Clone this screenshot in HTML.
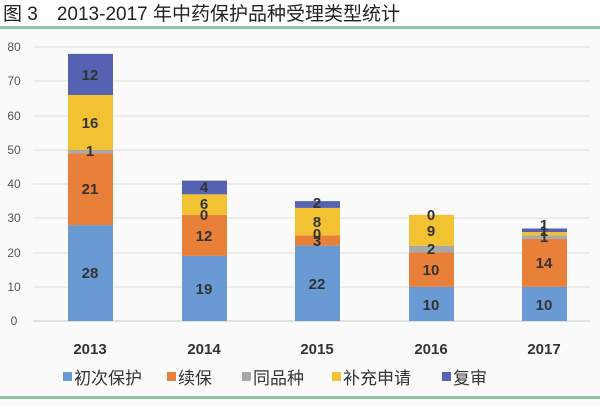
<!DOCTYPE html>
<html><head><meta charset="utf-8"><style>
body{margin:0;width:600px;height:405px;background:#fff;overflow:hidden;font-family:"Liberation Sans","Noto Sans CJK SC",sans-serif}
</style></head><body>
<svg width="600" height="405" xmlns="http://www.w3.org/2000/svg" font-family="Liberation Sans, Noto Sans CJK SC, sans-serif">
<rect width="600" height="405" fill="#fbfbfb"/>
<rect width="600" height="27" fill="#fff"/>
<text x="3" y="20" font-size="19" fill="#222">图 3　2013-2017 年中药保护品种受理类型统计</text>
<rect x="0" y="26" width="600" height="3" fill="#8cc9a2"/>
<rect x="0" y="396" width="600" height="3" fill="#8cc9a2"/>
<g stroke="#dcdcdc" stroke-width="1">
<line x1="33" x2="590" y1="47" y2="47"/><line x1="33" x2="590" y1="81" y2="81"/>
<line x1="33" x2="590" y1="116" y2="116"/><line x1="33" x2="590" y1="150" y2="150"/>
<line x1="33" x2="590" y1="184" y2="184"/><line x1="33" x2="590" y1="218" y2="218"/>
<line x1="33" x2="590" y1="253" y2="253"/><line x1="33" x2="590" y1="287" y2="287"/>
<line x1="33" x2="590" y1="321" y2="321" stroke="#c8c8c8"/>
</g>
<g font-size="12" fill="#555" text-anchor="middle">
<text x="14" y="51">80</text><text x="14" y="85">70</text><text x="14" y="120">60</text>
<text x="14" y="154">50</text><text x="14" y="188">40</text><text x="14" y="222">30</text>
<text x="14" y="257">20</text><text x="14" y="291">10</text><text x="14" y="325">0</text>
</g>
<!-- scale 3.425 px/unit, base 321 -->
<g>
<!-- 2013 -->
<rect x="68" y="225.1" width="45" height="95.9" fill="#6a9ad3"/>
<rect x="68" y="153.2" width="45" height="71.9" fill="#e8803a"/>
<rect x="68" y="149.8" width="45" height="3.4" fill="#a8a8a8"/>
<rect x="68" y="95" width="45" height="54.8" fill="#f3c233"/>
<rect x="68" y="53.9" width="45" height="41.1" fill="#5562b2"/>
<!-- 2014 -->
<rect x="182" y="255.9" width="45" height="65.1" fill="#6a9ad3"/>
<rect x="182" y="214.8" width="45" height="41.1" fill="#e8803a"/>
<rect x="182" y="194.3" width="45" height="20.5" fill="#f3c233"/>
<rect x="182" y="180.6" width="45" height="13.7" fill="#5562b2"/>
<!-- 2015 -->
<rect x="295" y="245.6" width="45" height="75.4" fill="#6a9ad3"/>
<rect x="295" y="235.3" width="45" height="10.3" fill="#e8803a"/>
<rect x="295" y="207.9" width="45" height="27.4" fill="#f3c233"/>
<rect x="295" y="201.1" width="45" height="6.8" fill="#5562b2"/>
<!-- 2016 -->
<rect x="409" y="286.8" width="45" height="34.2" fill="#6a9ad3"/>
<rect x="409" y="252.5" width="45" height="34.3" fill="#e8803a"/>
<rect x="409" y="245.7" width="45" height="6.8" fill="#a8a8a8"/>
<rect x="409" y="214.9" width="45" height="30.8" fill="#f3c233"/>
<!-- 2017 -->
<rect x="522" y="286.8" width="45" height="34.2" fill="#6a9ad3"/>
<rect x="522" y="238.8" width="45" height="48" fill="#e8803a"/>
<rect x="522" y="235.4" width="45" height="3.4" fill="#a8a8a8"/>
<rect x="522" y="232" width="45" height="3.4" fill="#f3c233"/>
<rect x="522" y="228.5" width="45" height="3.5" fill="#5562b2"/>
</g>
<g font-size="15" font-weight="bold" fill="#333" text-anchor="middle">
<text x="90" y="278">28</text><text x="90" y="194">21</text><text x="90" y="156">1</text>
<text x="90" y="128">16</text><text x="90" y="80">12</text>
<text x="204" y="294">19</text><text x="204" y="241">12</text><text x="204" y="220">0</text>
<text x="204" y="209">6</text><text x="204" y="192">4</text>
<text x="317" y="289">22</text><text x="317" y="246">3</text><text x="317" y="239">0</text>
<text x="317" y="227">8</text><text x="317" y="208">2</text>
<text x="431" y="310">10</text><text x="431" y="275">10</text><text x="431" y="254">2</text>
<text x="431" y="236">9</text><text x="431" y="220">0</text>
<text x="544" y="310">10</text><text x="544" y="268">14</text><text x="544" y="242">1</text>
<text x="544" y="236">1</text><text x="544" y="230">1</text>
</g>
<g font-size="15" font-weight="bold" fill="#333" text-anchor="middle">
<text x="90" y="354">2013</text><text x="204" y="354">2014</text><text x="317" y="354">2015</text>
<text x="431" y="354">2016</text><text x="544" y="354">2017</text>
</g>
<g font-size="17" fill="#333">
<rect x="63" y="372" width="9" height="9" fill="#6a9ad3"/><text x="74" y="384">初次保护</text>
<rect x="167" y="372" width="9" height="9" fill="#e8803a"/><text x="178" y="384">续保</text>
<rect x="242" y="372" width="9" height="9" fill="#a8a8a8"/><text x="253" y="384">同品种</text>
<rect x="332" y="372" width="9" height="9" fill="#f3c233"/><text x="343" y="384">补充申请</text>
<rect x="442" y="372" width="9" height="9" fill="#5562b2"/><text x="453" y="384">复审</text>
</g>
</svg>
</body></html>
